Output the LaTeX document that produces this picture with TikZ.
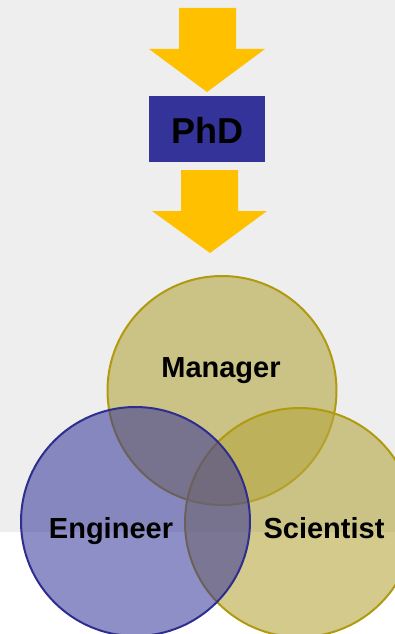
\documentclass[tikz,border=0pt]{standalone}
\usepackage{fontspec}
\setmainfont{Liberation Sans}
\begin{document}
\begin{tikzpicture}[x=1pt,y=-1pt,
  arrowfill/.style={fill=arrowc, draw=none},
  gold/.style={fill=goldfill, fill opacity=0.6, draw=goldline, line width=2pt, draw opacity=1},
  blue/.style={fill=bluefill, fill opacity=0.55, draw=blueline, line width=2pt, draw opacity=1},
  lbl/.style={font=\bfseries\fontsize{29}{30}\selectfont, text=black, anchor=base, inner sep=0pt},
]
\definecolor{arrowc}{HTML}{FFC000}
\definecolor{boxc}{HTML}{333399}
\definecolor{goldfill}{HTML}{B5A640}
\definecolor{goldline}{HTML}{B09A10}
\definecolor{bluefill}{HTML}{333399}
\definecolor{blueline}{HTML}{2E2E8F}
\definecolor{bg}{HTML}{EEEEEE}
\useasboundingbox (0,0) rectangle (395,634);
\fill[bg] (0,0) rectangle (395,532);
% arrows
\fill[arrowfill] (179,8) -- (236,8) -- (236,49) -- (265,49) -- (207,92) -- (149,49) -- (179,49) -- cycle;
\node[fill=boxc, minimum width=116pt, minimum height=66pt, inner sep=0pt, anchor=north west] (phdbox) at (149,96) {};
\node[font=\bfseries\fontsize{36}{38}\selectfont, anchor=base, inner sep=0pt] (phd) at (207,143) {PhD};
\fill[arrowfill] (181,170) -- (238,170) -- (238,211) -- (267,211) -- (210,253) -- (152,211) -- (181,211) -- cycle;
% circles
\begin{scope}
\clip (0,0) rectangle (395,634);
\draw[gold] (222,390.5) circle (114.5);
\draw[gold] (299.5,522.5) circle (114.5);
\draw[blue] (135.5,521.5) circle (114.5);
\end{scope}
\node[lbl] (manager) at (221,377) {Manager};
\node[lbl] (engineer) at (111,538) {Engineer};
\node[lbl] (scientist) at (324,538) {Scientist};
\end{tikzpicture}
\end{document}
